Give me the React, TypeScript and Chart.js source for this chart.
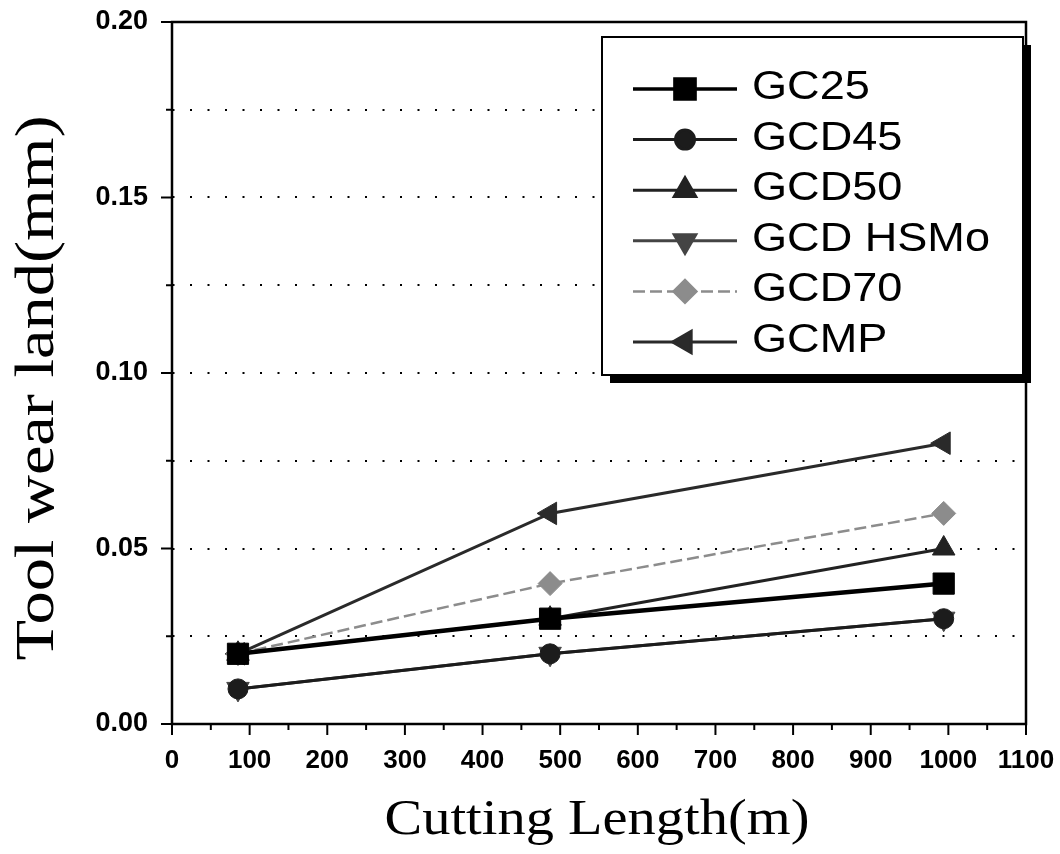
import React, { useEffect, useRef } from 'react';
import { Chart, registerables } from 'chart.js';
import { drawPoint } from 'chart.js/helpers';

Chart.register(...registerables);

// ---- data ----
const cuttingLength = [85, 487, 994];
const seriesNames = ['GC25', 'GCD45', 'GCD50', 'GCD HSMo', 'GCD70', 'GCMP'];
const gc25 = [0.02, 0.03, 0.04];
const gcd45 = [0.01, 0.02, 0.03];
const gcd50 = [0.02, 0.03, 0.05];
const gcdHSMo = [0.01, 0.02, 0.03];
const gcd70 = [0.02, 0.04, 0.06];
const gcmp = [0.02, 0.06, 0.08];
const xTickValues = [0, 100, 200, 300, 400, 500, 600, 700, 800, 900, 1000, 1100];
const yTickLabels = ['0.00', '0.05', '0.10', '0.15', '0.20'];
const xTitle = 'Cutting Length(m)';
const yTitle = 'Tool wear land(mm)';

const seriesValues = [gc25, gcd45, gcd50, gcdHSMo, gcd70, gcmp];

const styles = [
  { color: '#000000', width: 4.5, pointStyle: 'rect', radius: 15, rotation: 0, dash: [] as number[] },
  { color: '#1c1c1c', width: 3, pointStyle: 'circle', radius: 10, rotation: 0, dash: [] as number[] },
  { color: '#222222', width: 3, pointStyle: 'triangle', radius: 13, rotation: 0, dash: [] as number[] },
  { color: '#444444', width: 3, pointStyle: 'triangle', radius: 13, rotation: 180, dash: [] as number[] },
  { color: '#8c8c8c', width: 2.5, pointStyle: 'rectRot', radius: 12, rotation: 0, dash: [12, 5] },
  { color: '#2a2a2a', width: 3, pointStyle: 'triangle', radius: 13, rotation: 270, dash: [] as number[] },
];

const SANS = '"Liberation Sans", Arial, Helvetica, sans-serif';
const SERIF = '"Liberation Serif", "Times New Roman", Times, serif';

const framePlugin = {
  id: 'frameTicks',
  afterDatasetsDraw(chart: any) {
    const ctx = chart.ctx;
    const { left, right, top, bottom } = chart.chartArea;
    const xs = chart.scales.x;
    const ys = chart.scales.y;
    ctx.save();
    ctx.strokeStyle = '#000';
    ctx.lineWidth = 2.5;
    ctx.setLineDash([]);
    ctx.strokeRect(left, top, right - left, bottom - top);
    ctx.lineWidth = 2;
    for (let v = 0; v <= 1100; v += 50) {
      const px = xs.getPixelForValue(v);
      const len = v % 100 === 0 ? 11 : 6;
      ctx.beginPath();
      ctx.moveTo(px, bottom);
      ctx.lineTo(px, bottom + len);
      ctx.stroke();
    }
    for (let i = 0; i <= 8; i++) {
      const v = i * 0.025;
      const py = ys.getPixelForValue(v);
      const len = i % 2 === 0 ? 11 : 6;
      ctx.beginPath();
      ctx.moveTo(left, py);
      ctx.lineTo(left - len, py);
      ctx.stroke();
    }
    ctx.restore();
  },
};

const legendPlugin = {
  id: 'boxLegend',
  afterDraw(chart: any) {
    const ctx = chart.ctx;
    const bx = 602, by = 37, bw = 421, bh = 338, sh = 8;
    ctx.save();
    ctx.fillStyle = '#000';
    ctx.fillRect(bx + sh, by + sh, bw, bh);
    ctx.fillStyle = '#fff';
    ctx.fillRect(bx, by, bw, bh);
    ctx.strokeStyle = '#000';
    ctx.lineWidth = 2;
    ctx.strokeRect(bx, by, bw, bh);
    ctx.font = `40px ${SANS}`;
    const ref = ctx.measureText('GCD HSMo').width;
    const sx = 238 / ref;
    chart.data.datasets.forEach((ds: any, i: number) => {
      const y = 89 + i * 50.6;
      ctx.strokeStyle = ds.borderColor;
      ctx.lineWidth = Math.min(ds.borderWidth, 3.5);
      ctx.setLineDash(ds.borderDash || []);
      ctx.beginPath();
      ctx.moveTo(633, y);
      ctx.lineTo(737, y);
      ctx.stroke();
      ctx.setLineDash([]);
      ctx.fillStyle = ds.pointBackgroundColor;
      ctx.strokeStyle = ds.pointBorderColor;
      drawPoint(ctx, {
        pointStyle: ds.pointStyle,
        rotation: ds.pointRotation,
        radius: ds.pointRadius * 0.95,
        borderWidth: 1,
      } as any, 685, y);
      ctx.save();
      ctx.fillStyle = '#000';
      ctx.font = `40px ${SANS}`;
      ctx.textAlign = 'left';
      ctx.textBaseline = 'alphabetic';
      ctx.translate(752, y + 10);
      ctx.scale(sx, 1);
      ctx.fillText(ds.label, 0, 0);
      ctx.restore();
    });
    ctx.restore();
  },
};

const titlePlugin = {
  id: 'axisTitles',
  afterDraw(chart: any) {
    const ctx = chart.ctx;
    ctx.save();
    ctx.fillStyle = '#000';
    ctx.textAlign = 'center';
    ctx.textBaseline = 'alphabetic';
    ctx.save();
    ctx.font = `50px ${SERIF}`;
    const wx = ctx.measureText(xTitle).width;
    ctx.translate(597, 834);
    ctx.scale(425 / wx, 1);
    ctx.fillText(xTitle, 0, 0);
    ctx.restore();
    ctx.save();
    ctx.font = `55px ${SERIF}`;
    const wy = ctx.measureText(yTitle).width;
    ctx.translate(53, 388);
    ctx.rotate(-Math.PI / 2);
    ctx.scale(545 / wy, 1);
    ctx.fillText(yTitle, 0, 0);
    ctx.restore();
    ctx.restore();
  },
};

export default function App() {
  const canvasRef = useRef<HTMLCanvasElement | null>(null);

  useEffect(() => {
    const canvas = canvasRef.current;
    if (!canvas) return;
    const datasets = seriesNames.map((name, i) => {
      const s = styles[i];
      return {
        label: name,
        data: cuttingLength.map((x, j) => ({ x, y: seriesValues[i][j] })),
        borderColor: s.color,
        backgroundColor: s.color,
        borderWidth: s.width,
        borderDash: s.dash,
        pointStyle: s.pointStyle,
        pointRadius: s.radius,
        pointRotation: s.rotation,
        pointBackgroundColor: s.color,
        pointBorderColor: s.color,
        pointBorderWidth: 1,
        tension: 0,
        fill: false,
      };
    });

    const chart = new Chart(canvas, {
      type: 'line',
      data: { datasets } as any,
      options: {
        responsive: false,
        animation: false,
        devicePixelRatio: 1,
        layout: { padding: { left: 0, right: 34, top: 22, bottom: 0 } },
        plugins: {
          legend: { display: false },
          tooltip: { enabled: false },
          title: { display: false },
        },
        scales: {
          x: {
            type: 'linear',
            min: 0,
            max: 1100,
            afterBuildTicks: (scale: any) => {
              scale.ticks = xTickValues.map((v) => ({ value: v }));
            },
            afterFit: (scale: any) => {
              scale.height = 130;
              scale.paddingLeft = 0;
              scale.paddingRight = 0;
            },
            ticks: {
              padding: 21,
              maxRotation: 0,
              autoSkip: false,
              color: '#000',
              font: { family: SANS, size: 26, weight: 'bold' },
              callback: (v: any) => String(v),
            },
            grid: { display: false, drawTicks: false },
            border: { display: false },
          },
          y: {
            type: 'linear',
            min: 0,
            max: 0.2,
            afterBuildTicks: (scale: any) => {
              const t = [];
              for (let i = 0; i <= 8; i++) t.push({ value: i * 0.025 });
              scale.ticks = t;
            },
            afterFit: (scale: any) => {
              scale.width = 172;
              scale.paddingTop = 0;
              scale.paddingBottom = 0;
            },
            ticks: {
              padding: 24,
              autoSkip: false,
              color: '#000',
              font: { family: SANS, size: 27, weight: 'bold' },
              callback: (_v: any, index: number) => (index % 2 === 0 ? yTickLabels[index / 2] : ''),
            },
            grid: {
              drawTicks: false,
              lineWidth: 2,
              color: (c: any) => {
                const v = c.tick ? c.tick.value : 0.1;
                if (v < 0.001 || v > 0.199) return 'rgba(0,0,0,0)';
                return '#000';
              },
            },
            border: { display: false, dash: [2, 15.5], dashOffset: -18 },
          },
        },
      },
      plugins: [framePlugin, legendPlugin, titlePlugin],
    } as any);

    return () => {
      chart.destroy();
    };
  }, []);

  return (
    <div style={{ position: 'absolute', left: 0, top: 0, width: 1060, height: 854, background: '#fff' }}>
      <canvas ref={canvasRef} width={1060} height={854} />
    </div>
  );
}
